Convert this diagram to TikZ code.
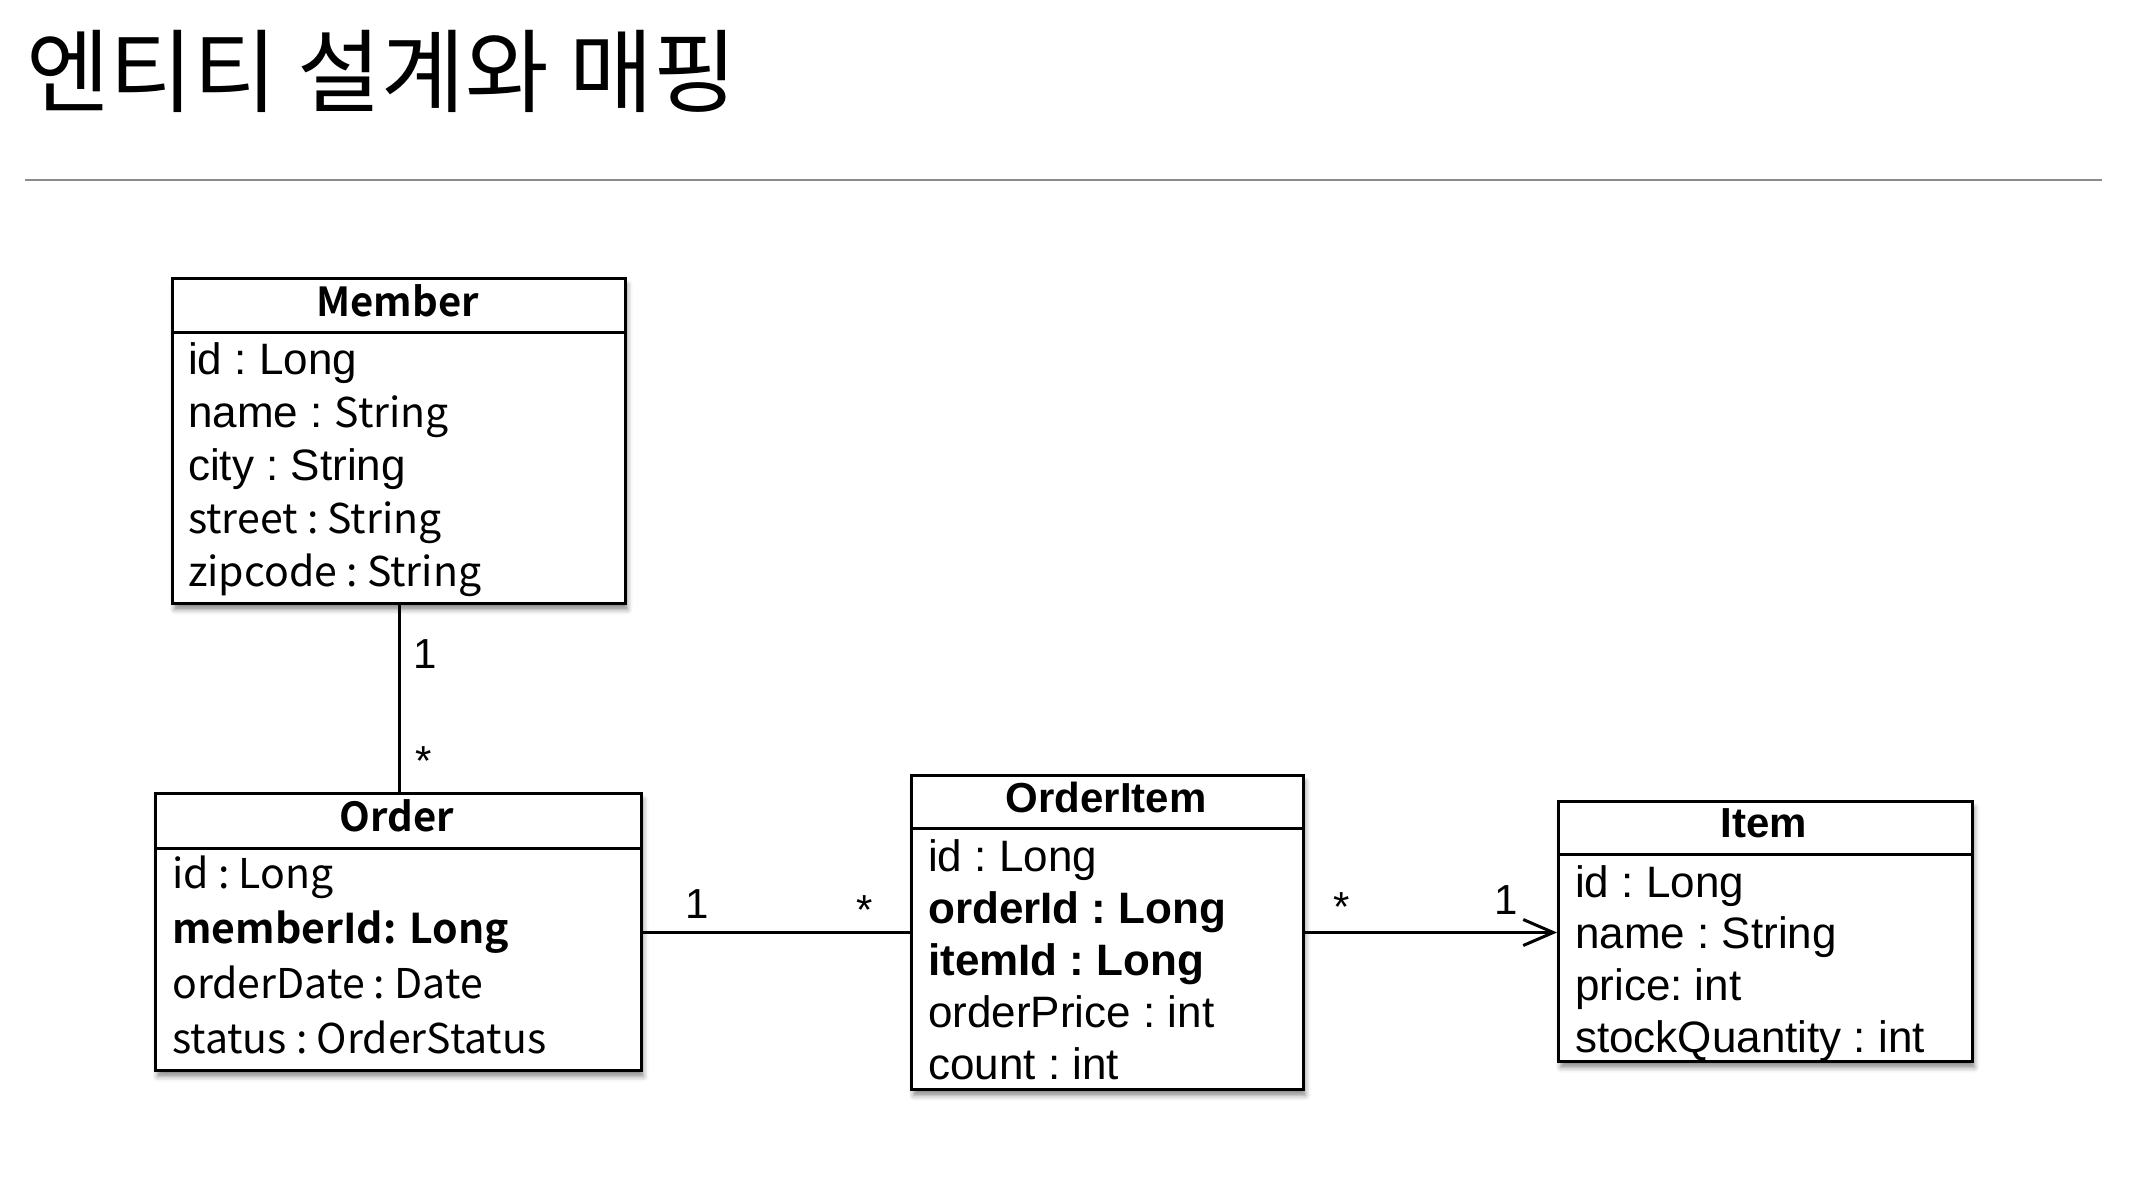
\documentclass[tikz,border=0pt]{standalone}
\usepackage{fontspec}
\setmainfont{Liberation Sans}
\newfontfamily\kofont{Noto Sans CJK KR}[BoldFont={Noto Sans CJK KR Bold}, WordSpace=1.4]
\newfontfamily\titlefont{Noto Sans CJK KR}
\usetikzlibrary{arrows.meta,shadows.blur}
\frenchspacing

\begin{document}
\begin{tikzpicture}[x=1pt,y=-1pt,
    classbox/.style={draw, line width=3pt, fill=white, inner sep=0pt, anchor=north west,
      blur shadow={shadow xshift=2pt, shadow yshift=-6pt, shadow blur radius=5pt, shadow opacity=45}},
    classname/.style={inner sep=0pt, font=\fontsize{42}{48}\selectfont\bfseries},
    attrs/.style={anchor=north west, align=left, inner sep=0pt},
    mult/.style={inner sep=0pt, anchor=base, font=\fontsize{42}{50}\selectfont},
    assoc/.style={line width=3pt}]
  \useasboundingbox (0,0) rectangle (2140,1202);

  % Titulo
  \node[anchor=base west, inner sep=0pt, font=\titlefont\fontsize{91}{104}\selectfont] (title) at (26,105) {엔티티 설계와 매핑};
  \draw[black!45, line width=2pt] (25,180) -- (2102,180);

  % Member
  \node[classbox, minimum width=453pt, minimum height=325pt] (member) at (171,277) {};
  \draw[line width=3pt] (171,332) -- (624,332);
  \node[classname, font=\kofont\fontsize{40}{48}\selectfont\bfseries] (member-name) at (397.5,300.5) {Member};
  \node[attrs, font=\fontsize{44}{53}\selectfont] (member-attrs) at (188,342)
    {id : Long\\ name : {\kofont\fontsize{41}{53}\selectfont String}\\ city : String\\
     {\kofont\fontsize{41}{53}\selectfont street : String}\\ {\kofont\fontsize{41}{53}\selectfont zipcode : String}};

  % Order
  \node[classbox, minimum width=486pt, minimum height=277pt] (order) at (154,792) {};
  \draw[line width=3pt] (154,848) -- (640,848);
  \node[classname, font=\kofont\fontsize{40}{48}\selectfont\bfseries] (order-name) at (397,816) {Order};
  \node[attrs, font=\kofont\fontsize{41}{55}\selectfont] (order-attrs) at (172,856)
    {id : Long\\ \textbf{memberId: Long}\\ orderDate : Date\\ status : OrderStatus};

  % OrderItem
  \node[classbox, minimum width=392pt, minimum height=314pt] (orderitem) at (910,774) {};
  \draw[line width=3pt] (910,828) -- (1302,828);
  \node[classname] (orderitem-name) at (1106,797) {OrderItem};
  \node[attrs, font=\fontsize{44}{52}\selectfont] (orderitem-attrs) at (928,839)
    {id : Long\\ \textbf{orderId : Long}\\ \textbf{itemId : Long}\\ orderPrice : int\\ count : int};

  % Item
  \node[classbox, minimum width=414pt, minimum height=260pt] (item) at (1557,800) {};
  \draw[line width=3pt] (1557,854) -- (1971,854);
  \node[classname] (item-name) at (1764,823) {Item};
  \node[attrs, font=\fontsize{44}{51.7}\selectfont] (item-attrs) at (1575,865)
    {id : Long\\ name : String\\ price: int\\ stockQuantity : int};

  % Relaciones
  \draw[assoc] (member.south) -- (member.south |- order.north)
    node[mult, pos=0.342, anchor=base west, xshift=13pt] (member-one) {1}
    node[mult, pos=0.91, anchor=base west, xshift=15pt] (member-many) {*};
  \draw[assoc] (order.east) -- (order.east -| orderitem.west)
    node[mult, pos=0.204, yshift=14pt] (order-one) {1}
    node[mult, pos=0.83, yshift=8pt] (order-many) {*};
  \draw[assoc, -{Straight Barb[length=30pt, width=26pt]}] (orderitem.east) -- (orderitem.east -| item.west)
    node[mult, pos=0.145, yshift=11pt] (item-many) {*}
    node[mult, pos=0.80, yshift=18pt] (item-one) {1};
\end{tikzpicture}
\end{document}
